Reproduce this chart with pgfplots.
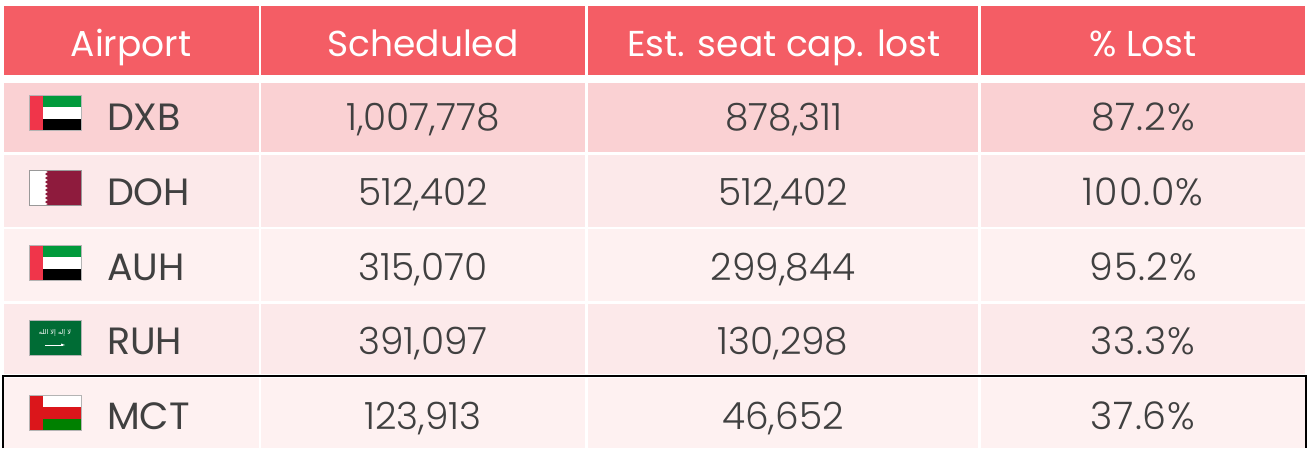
\documentclass[border=0pt]{standalone}
\usepackage{pgfplots}
\pgfplotsset{compat=1.18}
\usepackage{fontspec}
\setmainfont{Poppins}
\newfontfamily\headfont{Poppins}
\newfontfamily\valfont{Poppins Light}
\newfontfamily\pctfont[LetterSpace=2.5]{Poppins Light}
\newfontfamily\arabicfont[Script=Arabic]{DejaVu Sans}
\TeXXeTstate=1
\definecolor{hdr}{HTML}{F45D65}
\definecolor{rowa}{HTML}{FAD1D3}
\definecolor{rowb}{HTML}{FCE9EA}
\definecolor{rowc}{HTML}{FEF1F1}
\definecolor{txt}{HTML}{404040}
\definecolor{uaered}{HTML}{F0354A}
\definecolor{uaegreen}{HTML}{009A3B}
\definecolor{qatar}{HTML}{8E1B3D}
\definecolor{saudi}{HTML}{006C35}
\definecolor{omanred}{HTML}{DB161B}
\definecolor{omangreen}{HTML}{008000}
\definecolor{flagedge}{HTML}{B4B4B4}
\newcommand\rect[5]{\addplot[fill=#1,draw=none,mark=none] coordinates {(#2,#3)(#4,#3)(#4,#5)(#2,#5)} --cycle;}
\newcommand\rowcells[3]{%
  \rect{#1}{4}{#2}{258.5}{#3}\rect{#1}{261}{#2}{585}{#3}\rect{#1}{588}{#2}{977.5}{#3}\rect{#1}{981}{#2}{1305}{#3}}
\newcommand\flagedge[2]{\addplot[draw=flagedge,line width=0.8pt,mark=none] coordinates {(29,#1)(81,#1)(81,#2)(29,#2)} --cycle;}
\newcommand\uae[4]{%
  \rect{uaegreen}{43}{#1}{81}{#2}\rect{white}{43}{#2}{81}{#3}\rect{black}{43}{#3}{81}{#4}\rect{uaered}{29}{#1}{43}{#4}\flagedge{#1}{#4}}
\begin{document}
\begin{tikzpicture}
\begin{axis}[
  scale only axis, width=1311pt, height=448pt,
  xmin=0, xmax=1311, ymin=0, ymax=448, y dir=reverse,
  hide axis, clip=false,
  nodes near coords={\pgfplotspointmeta},
  point meta=explicit symbolic,
  every node near coord/.style={inner sep=0pt, outer sep=0pt, anchor=base}
]
\path (axis cs:0,0) rectangle (axis cs:1311,448);
% cells
\rowcells{hdr}{6}{75}
\rowcells{rowa}{83}{152}
\rowcells{rowb}{155}{227}
\rowcells{rowc}{229}{301}
\rowcells{rowb}{304}{374}
\rowcells{rowc}{378}{448}
% flags
\uae{95}{107}{119}{130.5}
\rect{white}{29}{170}{46}{205.5}
\addplot[fill=qatar,draw=none,mark=none] coordinates {(81,170)(45,170)(48,172)(45,174)(48,176)(45,178)(48,180)(45,182)(48,184)(45,186)(48,188)(45,190)(48,192)(45,194)(48,196)(45,198)(48,200)(45,202)(48,204)(45,205.5)(81,205.5)} --cycle;
\addplot[draw=gray!80,line width=0.8pt,mark=none] coordinates {(29,170)(81,170)(81,205.5)(29,205.5)} --cycle;
\uae{245}{257}{269}{280.5}
\rect{saudi}{29}{320}{81}{355.5}
\addplot[draw=white,line width=0.8pt,mark=none] coordinates {(45,345)(63,345)};
\addplot[fill=white,draw=none,mark=none] coordinates {(61,343.5)(65,345)(61,346)} --cycle;
\flagedge{320}{355.5}
\rect{white}{43}{395}{81}{407}
\rect{omanred}{43}{407}{81}{419}
\rect{omangreen}{43}{419}{81}{430.5}
\rect{omanred}{29}{395}{43}{430.5}
\flagedge{395}{430.5}
% black frame
\addplot[draw=black,line width=2.4pt,mark=none] coordinates {(2.8,448)(2.8,376)(1306,376)(1306,448)};
% header
\addplot[draw=none,mark=none,nodes near coords style={font=\headfont\fontsize{36}{40}\selectfont,text=white}] coordinates {
 (131,57)[Airport] (423,57)[Scheduled] (784,57)[Est. seat cap. lost] (1143,57)[\% Lost]};
% airports
\addplot[draw=none,mark=none,nodes near coords style={font=\fontsize{38}{40}\selectfont,text=txt,anchor=base west}] coordinates {
 (107,131)[DXB] (107,205)[DOH] (107,280)[AUH] (107,354)[RUH] (107,429)[MCT]};
% values
\addplot[draw=none,mark=none,nodes near coords style={font=\valfont\fontsize{37.5}{40}\selectfont,text=txt}] coordinates {
 (423,131)[1,007,778] (423,205)[512,402] (423,280)[315,070] (423,354)[391,097] (423,429)[123,913]};
\addplot[draw=none,mark=none,nodes near coords style={font=\valfont\fontsize{37.5}{40}\selectfont,text=txt}] coordinates {
 (784,131)[878,311] (783,205)[512,402] (783,280)[299,844] (783,354)[130,298] (783,429)[46,652]};
\addplot[draw=none,mark=none,nodes near coords style={font=\pctfont\fontsize{38}{40}\selectfont,text=txt}] coordinates {
 (1143,131)[87.2\%] (1143,205)[100.0\%] (1143,280)[95.2\%] (1143,354)[33.3\%] (1143,429)[37.6\%]};
\node[text=white,inner sep=0pt,font=\arabicfont\fontsize{6.5}{7}\selectfont] at (axis cs:55,333) {\beginR لا إله إلا الله\endR};
\end{axis}
\end{tikzpicture}
\end{document}
